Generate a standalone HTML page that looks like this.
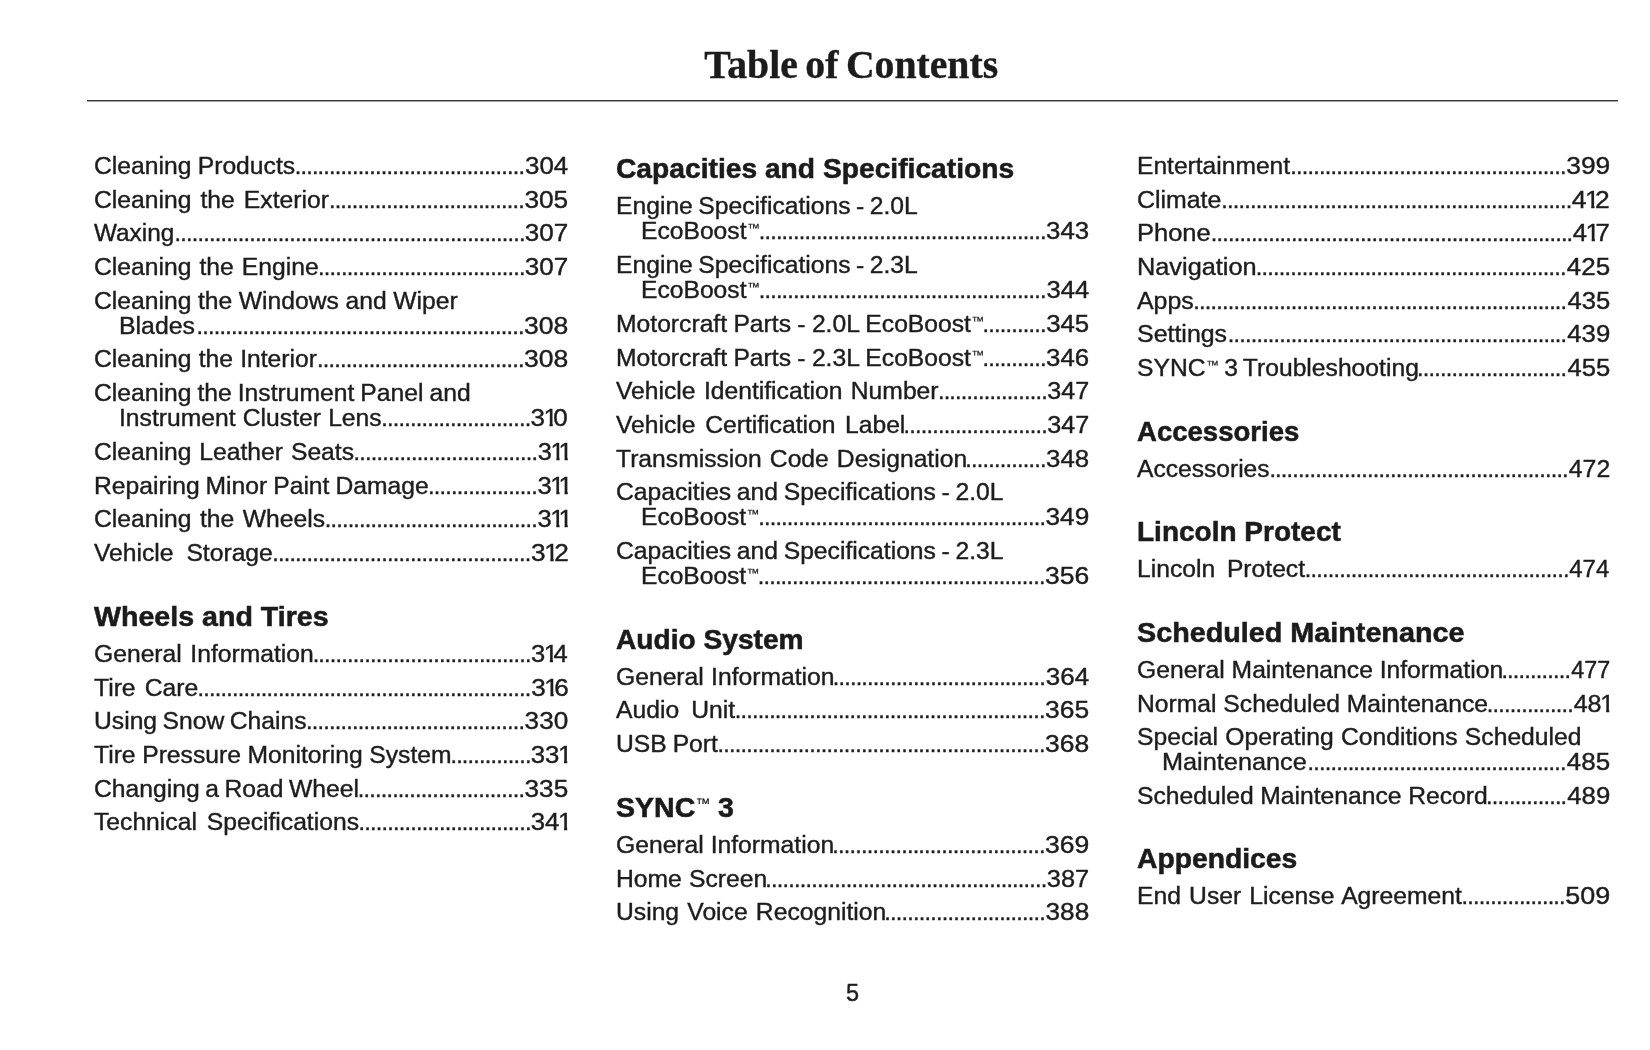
<!DOCTYPE html>
<html lang="en"><head><meta charset="utf-8"><title>Table of Contents</title>
<style>
html,body{margin:0;padding:0;background:#fff}
body{width:1650px;height:1050px;overflow:hidden;position:relative;font-family:"Liberation Sans",Arial,sans-serif;color:#1d1d1d}
.page{position:absolute;left:0;top:0;width:1650px;height:1050px;overflow:hidden;will-change:transform}
h1{position:absolute;left:26.5px;-webkit-text-stroke:0.4px #1c1c1c;width:1650px;top:40.00px;margin:0;text-align:center;font-family:"Liberation Serif","Times New Roman",serif;font-weight:bold;font-size:40.90px;line-height:50px;color:#1c1c1c;word-spacing:-2.5px}
h1 span{display:inline-block;transform:scaleX(0.9713);transform-origin:50% 50%;white-space:nowrap}
.rule{position:absolute;left:87px;width:1531px;top:100px;height:1px;background:#383838;box-shadow:0 1px 0 #a8a8a8}
h2{position:absolute;margin:0;font-size:27.60px;line-height:36px;font-weight:bold;white-space:nowrap;transform-origin:0 0;color:#1b1b1b;-webkit-text-stroke:0.55px #1b1b1b}
p{position:absolute;margin:0;font-size:23.50px;line-height:30px;white-space:nowrap;-webkit-text-stroke:0.4px #1d1d1d}
.l{transform-origin:0 0}
.d{letter-spacing:-0.789px;overflow:hidden}
.n{transform-origin:100% 0}
.n i{font-style:normal;display:inline-block;width:7.60px;text-indent:-1.36px;clip-path:polygon(-1px 0,7.1px 0,7.1px 100%,4.2px 100%,4.2px 20.7px,-1px 20.7px)}
.tm{font-size:12.00px;line-height:0;position:relative;top:-7px;margin-left:0.6px;-webkit-text-stroke:0.25px #1d1d1d}
h2 .tm{font-size:14.00px;font-weight:normal;-webkit-text-stroke:0.2px #1b1b1b;top:-8.6px;margin-left:0.3px}
.pg{left:27.6px;width:1650px;text-align:center;top:978.00px}
</style></head>
<body><div class="page">
<h1><span>Table of Contents</span></h1>
<div class="rule"></div>
<section class="col c1">
<div class="e"><p class="l" style="left:94.40px;top:151px;transform:scaleX(1.0500);word-spacing:-0.51px">Cleaning Products</p><p class="d" style="left:294.66px;top:151px;width:231.60px">........................................</p><p class="n" style="right:1082.14px;top:151px;transform:scaleX(1.1030)">304</p></div>
<div class="e"><p class="l" style="left:94.40px;top:185px;transform:scaleX(1.0500);word-spacing:2.11px">Cleaning the Exterior</p><p class="d" style="left:328.90px;top:185px;width:197.16px">..................................</p><p class="n" style="right:1081.80px;top:185px;transform:scaleX(1.1172)">305</p></div>
<div class="e"><p class="l" style="left:94.40px;top:218px;transform:scaleX(1.0347)">Waxing</p><p class="d" style="left:174.52px;top:218px;width:352.14px">.............................................................</p><p class="n" style="right:1081.59px;top:218px;transform:scaleX(1.1069)">307</p></div>
<div class="e"><p class="l" style="left:94.40px;top:252px;transform:scaleX(1.0500);word-spacing:1.15px">Cleaning the Engine</p><p class="d" style="left:318.02px;top:252px;width:208.64px">....................................</p><p class="n" style="right:1081.59px;top:252px;transform:scaleX(1.1069)">307</p></div>
<div class="e"><p class="l" style="left:94.40px;top:286px;transform:scaleX(1.0500);word-spacing:-0.29px">Cleaning the Windows and Wiper</p></div>
<div class="e"><p class="l" style="left:119.40px;top:311px;transform:scaleX(1.0575)">Blades</p><p class="d" style="left:196.48px;top:311px;width:329.18px">.........................................................</p><p class="n" style="right:1081.75px;top:311px;transform:scaleX(1.1289)">308</p></div>
<div class="e"><p class="l" style="left:94.40px;top:344px;transform:scaleX(1.0500);word-spacing:0.36px">Cleaning the Interior</p><p class="d" style="left:317.02px;top:344px;width:208.64px">....................................</p><p class="n" style="right:1081.75px;top:344px;transform:scaleX(1.1289)">308</p></div>
<div class="e"><p class="l" style="left:94.40px;top:378px;transform:scaleX(1.0500);word-spacing:-0.80px">Cleaning the Instrument Panel and</p></div>
<div class="e"><p class="l" style="left:119.40px;top:403px;transform:scaleX(1.0500);word-spacing:0.33px">Instrument Cluster Lens</p><p class="d" style="left:381.22px;top:403px;width:151.24px">..........................</p><p class="n" style="right:1081.89px;top:403px;transform:scaleX(1.1057)">3<i>1</i>0</p></div>
<div class="e"><p class="l" style="left:94.40px;top:437px;transform:scaleX(1.0500);word-spacing:1.01px">Cleaning Leather Seats</p><p class="d" style="left:353.58px;top:437px;width:185.68px">................................</p><p class="n" style="right:1081.85px;top:437px;transform:scaleX(1.0794)">3<i>1</i><i>1</i></p></div>
<div class="e"><p class="l" style="left:94.40px;top:471px;transform:scaleX(1.0500);word-spacing:-0.87px">Repairing Minor Paint Damage</p><p class="d" style="left:428.00px;top:471px;width:111.06px">...................</p><p class="n" style="right:1081.85px;top:471px;transform:scaleX(1.0869)">3<i>1</i><i>1</i></p></div>
<div class="e"><p class="l" style="left:94.40px;top:504px;transform:scaleX(1.0500);word-spacing:1.63px">Cleaning the Wheels</p><p class="d" style="left:324.68px;top:504px;width:214.38px">.....................................</p><p class="n" style="right:1081.85px;top:504px;transform:scaleX(1.0869)">3<i>1</i><i>1</i></p></div>
<div class="e"><p class="l" style="left:94.40px;top:538px;transform:scaleX(1.0500);word-spacing:5.67px">Vehicle Storage</p><p class="d" style="left:272.16px;top:538px;width:260.30px">.............................................</p><p class="n" style="right:1081.58px;top:538px;transform:scaleX(1.1149)">3<i>1</i>2</p></div>
<h2 style="left:94.40px;top:599.00px;transform:scaleX(1.0362)">Wheels and Tires</h2>
<div class="e"><p class="l" style="left:94.40px;top:639px;transform:scaleX(1.0500);word-spacing:1.62px">General Information</p><p class="d" style="left:312.64px;top:639px;width:220.12px">......................................</p><p class="n" style="right:1082.15px;top:639px;transform:scaleX(1.0885)">3<i>1</i>4</p></div>
<div class="e"><p class="l" style="left:94.40px;top:673px;transform:scaleX(1.0500);word-spacing:2.15px">Tire Care</p><p class="d" style="left:197.54px;top:673px;width:334.92px">..........................................................</p><p class="n" style="right:1081.75px;top:673px;transform:scaleX(1.1097)">3<i>1</i>6</p></div>
<div class="e"><p class="l" style="left:94.40px;top:706px;transform:scaleX(1.0500);word-spacing:-1.36px">Using Snow Chains</p><p class="d" style="left:306.04px;top:706px;width:220.12px">......................................</p><p class="n" style="right:1081.88px;top:706px;transform:scaleX(1.1124)">330</p></div>
<div class="e"><p class="l" style="left:94.40px;top:740px;transform:scaleX(1.0500);word-spacing:-0.25px">Tire Pressure Monitoring System</p><p class="d" style="left:450.40px;top:740px;width:82.36px">..............</p><p class="n" style="right:1081.83px;top:740px;transform:scaleX(1.0981)">33<i>1</i></p></div>
<div class="e"><p class="l" style="left:94.40px;top:774px;transform:scaleX(1.0500);word-spacing:-1.26px">Changing a Road Wheel</p><p class="d" style="left:357.70px;top:774px;width:168.46px">.............................</p><p class="n" style="right:1081.80px;top:774px;transform:scaleX(1.1145)">335</p></div>
<div class="e"><p class="l" style="left:94.40px;top:807px;transform:scaleX(1.0500);word-spacing:2.88px">Technical Specifications</p><p class="d" style="left:358.56px;top:807px;width:174.20px">..............................</p><p class="n" style="right:1081.83px;top:807px;transform:scaleX(1.0981)">34<i>1</i></p></div>
</section>
<section class="col c2">
<h2 style="left:615.70px;top:151.00px;transform:scaleX(1.0222)">Capacities and Specifications</h2>
<div class="e"><p class="l" style="left:615.70px;top:191px;transform:scaleX(1.0500);word-spacing:-1.29px">Engine Specifications - 2.0L</p></div>
<div class="e"><p class="l" style="left:640.70px;top:216px;transform:scaleX(1.0489)">EcoBoost<span class="tm">™</span></p><p class="d" style="left:758.66px;top:216px;width:289.00px">..................................................</p><p class="n" style="right:560.86px;top:216px;transform:scaleX(1.0998)">343</p></div>
<div class="e"><p class="l" style="left:615.70px;top:250px;transform:scaleX(1.0500);word-spacing:-1.29px">Engine Specifications - 2.3L</p></div>
<div class="e"><p class="l" style="left:640.70px;top:275px;transform:scaleX(1.0489)">EcoBoost<span class="tm">™</span></p><p class="d" style="left:758.66px;top:275px;width:289.00px">..................................................</p><p class="n" style="right:561.25px;top:275px;transform:scaleX(1.0897)">344</p></div>
<div class="e"><p class="l" style="left:615.70px;top:309px;transform:scaleX(1.0500);word-spacing:-0.49px">Motorcraft Parts - 2.0L EcoBoost<span class="tm">™</span></p><p class="d" style="left:982.52px;top:309px;width:65.14px">...........</p><p class="n" style="right:560.92px;top:309px;transform:scaleX(1.0984)">345</p></div>
<div class="e"><p class="l" style="left:615.70px;top:343px;transform:scaleX(1.0500);word-spacing:-0.49px">Motorcraft Parts - 2.3L EcoBoost<span class="tm">™</span></p><p class="d" style="left:982.52px;top:343px;width:65.14px">...........</p><p class="n" style="right:560.86px;top:343px;transform:scaleX(1.0998)">346</p></div>
<div class="e"><p class="l" style="left:615.70px;top:376px;transform:scaleX(1.0500);word-spacing:1.41px">Vehicle Identification Number</p><p class="d" style="left:937.90px;top:376px;width:111.06px">...................</p><p class="n" style="right:560.74px;top:376px;transform:scaleX(1.0692)">347</p></div>
<div class="e"><p class="l" style="left:615.70px;top:410px;transform:scaleX(1.0500);word-spacing:2.58px">Vehicle Certification Label</p><p class="d" style="left:903.46px;top:410px;width:145.50px">.........................</p><p class="n" style="right:560.74px;top:410px;transform:scaleX(1.0692)">347</p></div>
<div class="e"><p class="l" style="left:615.70px;top:444px;transform:scaleX(1.0500);word-spacing:1.11px">Transmission Code Designation</p><p class="d" style="left:965.30px;top:444px;width:82.36px">..............</p><p class="n" style="right:560.88px;top:444px;transform:scaleX(1.0994)">348</p></div>
<div class="e"><p class="l" style="left:615.70px;top:477px;transform:scaleX(1.0500);word-spacing:-1.14px">Capacities and Specifications - 2.0L</p></div>
<div class="e"><p class="l" style="left:640.70px;top:502px;transform:scaleX(1.0454)">EcoBoost<span class="tm">™</span></p><p class="d" style="left:758.16px;top:502px;width:289.00px">..................................................</p><p class="n" style="right:560.76px;top:502px;transform:scaleX(1.1156)">349</p></div>
<div class="e"><p class="l" style="left:615.70px;top:536px;transform:scaleX(1.0500);word-spacing:-1.14px">Capacities and Specifications - 2.3L</p></div>
<div class="e"><p class="l" style="left:640.70px;top:561px;transform:scaleX(1.0454)">EcoBoost<span class="tm">™</span></p><p class="d" style="left:757.66px;top:561px;width:289.00px">..................................................</p><p class="n" style="right:560.84px;top:561px;transform:scaleX(1.1266)">356</p></div>
<h2 style="left:615.70px;top:622.00px;transform:scaleX(1.0193)">Audio System</h2>
<div class="e"><p class="l" style="left:615.70px;top:662px;transform:scaleX(1.0500);word-spacing:0.42px">General Information</p><p class="d" style="left:832.68px;top:662px;width:214.38px">.....................................</p><p class="n" style="right:561.24px;top:662px;transform:scaleX(1.1056)">364</p></div>
<div class="e"><p class="l" style="left:615.70px;top:695px;transform:scaleX(1.0500);word-spacing:5.02px">Audio Unit</p><p class="d" style="left:734.70px;top:695px;width:311.96px">......................................................</p><p class="n" style="right:560.89px;top:695px;transform:scaleX(1.1252)">365</p></div>
<div class="e"><p class="l" style="left:615.70px;top:729px;transform:scaleX(1.0500);word-spacing:-0.90px">USB Port</p><p class="d" style="left:717.48px;top:729px;width:329.18px">.........................................................</p><p class="n" style="right:560.85px;top:729px;transform:scaleX(1.1262)">368</p></div>
<h2 style="left:615.70px;top:790.00px;transform:scaleX(1.0337)">SYNC<span class="tm">™</span> 3</h2>
<div class="e"><p class="l" style="left:615.70px;top:830px;transform:scaleX(1.0500);word-spacing:0.04px">General Information</p><p class="d" style="left:832.28px;top:830px;width:214.38px">.....................................</p><p class="n" style="right:560.74px;top:830px;transform:scaleX(1.1290)">369</p></div>
<div class="e"><p class="l" style="left:615.70px;top:864px;transform:scaleX(1.0500);word-spacing:0.27px">Home Screen</p><p class="d" style="left:765.30px;top:864px;width:283.26px">.................................................</p><p class="n" style="right:560.72px;top:864px;transform:scaleX(1.0799)">387</p></div>
<div class="e"><p class="l" style="left:615.70px;top:897px;transform:scaleX(1.0500);word-spacing:1.29px">Using Voice Recognition</p><p class="d" style="left:884.34px;top:897px;width:162.72px">............................</p><p class="n" style="right:560.86px;top:897px;transform:scaleX(1.1155)">388</p></div>
</section>
<section class="col c3">
<div class="e"><p class="l" style="left:1136.80px;top:151px;transform:scaleX(1.0463)">Entertainment</p><p class="d" style="left:1290.24px;top:151px;width:277.52px">................................................</p><p class="n" style="right:39.95px;top:151px;transform:scaleX(1.1209)">399</p></div>
<div class="e"><p class="l" style="left:1136.80px;top:185px;transform:scaleX(1.0580)">Climate</p><p class="d" style="left:1221.32px;top:185px;width:352.14px">.............................................................</p><p class="n" style="right:39.87px;top:185px;transform:scaleX(1.1244)">4<i>1</i>2</p></div>
<div class="e"><p class="l" style="left:1136.80px;top:218px;transform:scaleX(1.0845)">Phone</p><p class="d" style="left:1210.74px;top:218px;width:363.62px">...............................................................</p><p class="n" style="right:39.90px;top:218px;transform:scaleX(1.0963)">4<i>1</i>7</p></div>
<div class="e"><p class="l" style="left:1136.80px;top:252px;transform:scaleX(1.0770)">Navigation</p><p class="d" style="left:1255.80px;top:252px;width:311.96px">......................................................</p><p class="n" style="right:40.11px;top:252px;transform:scaleX(1.1066)">425</p></div>
<div class="e"><p class="l" style="left:1136.80px;top:286px;transform:scaleX(1.0600)">Apps</p><p class="d" style="left:1193.26px;top:286px;width:375.10px">.................................................................</p><p class="n" style="right:40.12px;top:286px;transform:scaleX(1.0907)">435</p></div>
<div class="e"><p class="l" style="left:1136.80px;top:319px;transform:scaleX(1.0609)">Settings</p><p class="d" style="left:1227.70px;top:319px;width:340.66px">...........................................................</p><p class="n" style="right:39.98px;top:319px;transform:scaleX(1.0944)">439</p></div>
<div class="e"><p class="l" style="left:1136.80px;top:353px;transform:scaleX(1.0500);word-spacing:-1.41px">SYNC<span class="tm">™</span> 3 Troubleshooting</p><p class="d" style="left:1417.12px;top:353px;width:151.24px">..........................</p><p class="n" style="right:40.12px;top:353px;transform:scaleX(1.0907)">455</p></div>
<h2 style="left:1136.80px;top:414.00px;transform:scaleX(0.9978)">Accessories</h2>
<div class="e"><p class="l" style="left:1136.80px;top:454px;transform:scaleX(1.0466)">Accessories</p><p class="d" style="left:1269.38px;top:454px;width:300.48px">....................................................</p><p class="n" style="right:39.95px;top:454px;transform:scaleX(1.0564)">472</p></div>
<h2 style="left:1136.80px;top:514.00px;transform:scaleX(1.0149)">Lincoln Protect</h2>
<div class="e"><p class="l" style="left:1136.80px;top:554px;transform:scaleX(1.0500);word-spacing:4.60px">Lincoln Protect</p><p class="d" style="left:1304.72px;top:554px;width:266.04px">..............................................</p><p class="n" style="right:40.50px;top:554px;transform:scaleX(1.0189)">474</p></div>
<h2 style="left:1136.80px;top:615.00px;transform:scaleX(1.0417)">Scheduled Maintenance</h2>
<div class="e"><p class="l" style="left:1136.80px;top:655px;transform:scaleX(1.0500);word-spacing:-0.05px">General Maintenance Information</p><p class="d" style="left:1501.38px;top:655px;width:70.88px">............</p><p class="n" style="right:40.03px;top:655px;transform:scaleX(0.9923)">477</p></div>
<div class="e"><p class="l" style="left:1136.80px;top:689px;transform:scaleX(1.0500);word-spacing:-0.02px">Normal Scheduled Maintenance</p><p class="d" style="left:1486.86px;top:689px;width:88.10px">...............</p><p class="n" style="right:40.16px;top:689px;transform:scaleX(1.0704)">48<i>1</i></p></div>
<div class="e"><p class="l" style="left:1136.80px;top:722px;transform:scaleX(1.0500);word-spacing:0.45px">Special Operating Conditions Scheduled</p></div>
<div class="e"><p class="l" style="left:1161.80px;top:747px;transform:scaleX(1.0759)">Maintenance</p><p class="d" style="left:1307.46px;top:747px;width:260.30px">.............................................</p><p class="n" style="right:40.11px;top:747px;transform:scaleX(1.1066)">485</p></div>
<div class="e"><p class="l" style="left:1136.80px;top:781px;transform:scaleX(1.0500);word-spacing:-0.21px">Scheduled Maintenance Record</p><p class="d" style="left:1486.00px;top:781px;width:82.36px">..............</p><p class="n" style="right:39.98px;top:781px;transform:scaleX(1.0944)">489</p></div>
<h2 style="left:1136.80px;top:841.00px;transform:scaleX(1.0240)">Appendices</h2>
<div class="e"><p class="l" style="left:1136.80px;top:881px;transform:scaleX(1.0500);word-spacing:1.24px">End User License Agreement</p><p class="d" style="left:1461.54px;top:881px;width:105.32px">..................</p><p class="n" style="right:39.92px;top:881px;transform:scaleX(1.1466)">509</p></div>
</section>
<p class="pg">5</p>
</div></body></html>
